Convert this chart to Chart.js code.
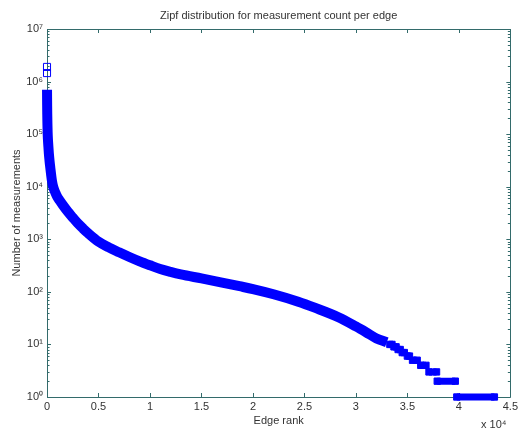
<!DOCTYPE html>
<html>
<head>
<meta charset="utf-8">
<script src="https://cdn.jsdelivr.net/npm/chart.js@4"></script>
<style>
  html, body { margin: 0; padding: 0; background: #fff; overflow: hidden; }
  #wrap { width: 521px; height: 430px; }
</style>
</head>
<body>
<div id="wrap"><canvas id="zipfChart"></canvas></div>
<script>
const topRank = [1, 2];
const topCount = [1.9e6, 1.45e6];

const curveRank = [3, 8, 15, 25, 40, 60, 90, 130, 180, 240, 320, 400, 480, 600, 800, 1000, 1250, 1500, 2000, 2500, 3000, 3500, 4000,
    5000, 6000, 7000, 8000, 9000, 10000, 11000, 12000, 13000, 15000, 17000, 18700, 20000, 22000, 24400, 26000, 28300,
    30000, 31000, 32000, 33000];
const curveCount = [7.0e5, 5.0e5, 3.5e5, 2.4e5, 1.6e5, 1.1e5, 8.0e4, 6.0e4, 4.3e4, 3.2e4, 2.3e4, 1.7e4, 1.3e4, 1.0e4, 7.8e3, 6.4e3, 5.4e3, 4.6e3, 3.4e3, 2.6e3, 2.0e3, 1.6e3, 1.3e3,
    900, 700, 565, 460, 380, 320, 272, 240, 215, 180, 150, 128, 113, 90, 65, 50, 33,
    22, 17, 13, 11];

// integer tail: one run per count, null splits the runs
const tailRank = [33300, 33500, 33600, 33700, 33900, 34000, 34100, 34300, 34400, 34500, 34700, 34850,
    35000, 35200, 35350, 35500, 35950, 36100, 36300, 36800, 36950, 37100, 37830, 37860,
    37900, 39650, 39720, 39800, 43450];
const tailCount = [10, 10, null, 9, 9, null, 8, 8, null, 7, 7, null,
    6, 6, null, 5, 5, null, 4, 4, null, 3, 3, null,
    2, 2, null, 1, 1];

const xTicks = [0, 5000, 10000, 15000, 20000, 25000, 30000, 35000, 40000, 45000];
const yTicks = [1, 10, 100, 1e3, 1e4, 1e5, 1e6, 1e7];
const sup = ['\u2070', '\u00b9', '\u00b2', '\u00b3', '\u2074', '\u2075', '\u2076', '\u2077'];

const blue = '#0000ff';
const axisColor = '#336b6b';
const textColor = '#333333';
const fontFamily = '"Liberation Sans", Arial, sans-serif';

function toPoints(xs, ys) {
    return xs.map((x, i) => ({ x: x, y: ys[i] }));
}

// MATLAB style box with inward ticks
const axisFrame = {
    id: 'axisFrame',
    beforeDatasetsDraw(chart) {
        const { ctx, chartArea: a, scales } = chart;
        ctx.save();
        ctx.strokeStyle = axisColor;
        ctx.lineWidth = 1;
        ctx.beginPath();
        ctx.rect(Math.round(a.left) + 0.5, Math.round(a.top) + 0.5, Math.round(a.right - a.left), Math.round(a.bottom - a.top));
        ctx.stroke();

        ctx.beginPath();
        xTicks.forEach(v => {
            const px = Math.round(scales.x.getPixelForValue(v)) + 0.5;
            ctx.moveTo(px, a.bottom); ctx.lineTo(px, a.bottom - 4);
            ctx.moveTo(px, a.top); ctx.lineTo(px, a.top + 4);
        });
        for (let d = 0; d < 7; d++) {
            for (let m = 1; m <= 9; m++) {
                const len = m === 1 ? 4 : 2.5;
                const py = Math.round(scales.y.getPixelForValue(m * Math.pow(10, d))) + 0.5;
                ctx.moveTo(a.left, py); ctx.lineTo(a.left + len, py);
                ctx.moveTo(a.right, py); ctx.lineTo(a.right - len, py);
            }
        }
        ctx.stroke();
        ctx.restore();
    },
    afterDraw(chart) {
        const { ctx, chartArea: a } = chart;
        const cx = (a.left + a.right) / 2;
        ctx.save();
        ctx.fillStyle = textColor;
        ctx.font = '11px ' + fontFamily;
        ctx.textAlign = 'center';
        ctx.textBaseline = 'middle';
        ctx.fillText('Zipf distribution for measurement count per edge', cx, 16);
        ctx.fillText('Edge rank', cx, 421);
        ctx.textAlign = 'left';
        ctx.fillText('x 10\u2074', 481, 425);
        ctx.translate(17, (a.top + a.bottom) / 2);
        ctx.rotate(-Math.PI / 2);
        ctx.textAlign = 'center';
        ctx.fillText('Number of measurements', 0, 0);
        ctx.restore();
    }
};

new Chart(document.getElementById('zipfChart').getContext('2d'), {
    type: 'line',
    data: {
        datasets: [
            {
                label: 'curve',
                data: toPoints(curveRank, curveCount),
                borderColor: blue,
                borderWidth: 10,
                borderCapStyle: 'butt',
                borderJoinStyle: 'round',
                pointRadius: 0,
                cubicInterpolationMode: 'monotone',
                clip: false
            },
            {
                label: 'tail',
                data: toPoints(tailRank, tailCount),
                borderColor: blue,
                backgroundColor: blue,
                borderWidth: 7,
                borderCapStyle: 'butt',
                pointStyle: 'rect',
                pointRadius: 4.5,
                pointBorderWidth: 1,
                pointBorderColor: blue,
                pointBackgroundColor: blue,
                spanGaps: false,
                tension: 0,
                clip: false
            },
            {
                label: 'top',
                data: toPoints(topRank, topCount),
                showLine: false,
                pointStyle: 'rect',
                pointRadius: 5,
                pointBorderWidth: 1,
                pointBorderColor: blue,
                pointBackgroundColor: 'rgba(0,0,0,0)',
                clip: false
            }
        ]
    },
    options: {
        responsive: true,
        maintainAspectRatio: false,
        animation: false,
        layout: { padding: { top: 29, right: 7, left: 0, bottom: 0 } },
        plugins: {
            legend: { display: false },
            tooltip: { enabled: false },
            title: { display: false }
        },
        scales: {
            x: {
                type: 'linear',
                min: 0,
                max: 45000,
                grid: { display: false, drawTicks: false },
                border: { display: false },
                afterFit: s => { s.height = 33; },
                afterBuildTicks: s => { s.ticks = xTicks.map(v => ({ value: v })); },
                ticks: {
                    padding: 3,
                    color: textColor,
                    font: { family: fontFamily, size: 11 },
                    maxRotation: 0,
                    autoSkip: false,
                    callback: v => String(v / 10000)
                }
            },
            y: {
                type: 'logarithmic',
                min: 1,
                max: 1e7,
                grid: { display: false, drawTicks: false },
                border: { display: false },
                afterFit: s => { s.width = 47; },
                afterBuildTicks: s => { s.ticks = yTicks.map(v => ({ value: v })); },
                ticks: {
                    padding: 4,
                    color: textColor,
                    font: { family: fontFamily, size: 11 },
                    autoSkip: false,
                    callback: v => '10' + sup[Math.round(Math.log10(v))]
                }
            }
        }
    },
    plugins: [axisFrame]
});
</script>
</body>
</html>
